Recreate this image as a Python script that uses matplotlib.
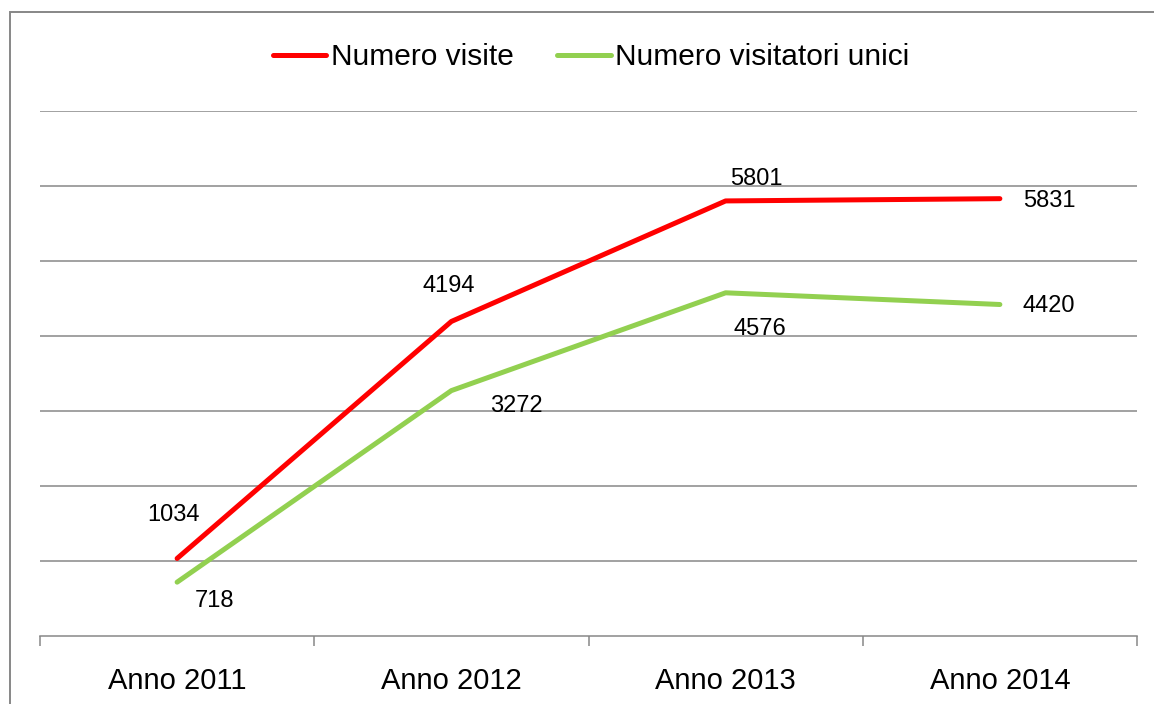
import matplotlib.pyplot as plt
from matplotlib.patches import Rectangle

plt.rcParams['font.family'] = ['Liberation Sans', 'DejaVu Sans']

# data
anni = ['Anno 2011', 'Anno 2012', 'Anno 2013', 'Anno 2014']
visite = [1034, 4194, 5801, 5831]
visitatori_unici = [718, 3272, 4576, 4420]

# label offsets (pixels) relative to each point
off_visite = [(-4, 43), (-3, 35), (31, 22), (49, -2)]
off_unici = [(37, -19), (65, -15), (34, -36), (49, -1)]

grigio = '#878787'
rosso = '#FF0000'
verde = '#92D050'

fig = plt.figure(figsize=(11.54, 7.04), dpi=100)
ax = fig.add_axes([40/1154, 1-636/704, (1137-40)/1154, (636-111)/704])

x = list(range(len(anni)))
ax.plot(x, visite, color=rosso, lw=3.6, solid_capstyle='round', label='Numero visite', zorder=3)
ax.plot(x, visitatori_unici, color=verde, lw=3.6, solid_capstyle='round',
        label='Numero visitatori unici', zorder=3)

for xi, v, o in zip(x, visite, off_visite):
    ax.annotate(str(v), (xi, v), xytext=o, textcoords='offset pixels',
                ha='center', va='center', fontsize=17)
for xi, v, o in zip(x, visitatori_unici, off_unici):
    ax.annotate(str(v), (xi, v), xytext=o, textcoords='offset pixels',
                ha='center', va='center', fontsize=17)

ax.set_xlim(-0.5, 3.5)
ax.set_ylim(0, 7000)
ax.set_yticks(range(1000, 8000, 1000))
ax.yaxis.grid(True, color=grigio, lw=1.1)
ax.tick_params(axis='y', left=False, labelleft=False)

ax.set_xticks([-0.5, 0.5, 1.5, 2.5, 3.5])
ax.set_xticklabels([])
ax.set_xticks(x, minor=True)
ax.set_xticklabels(anni, minor=True, fontsize=21)
ax.tick_params(axis='x', which='major', length=7, width=1.1, color=grigio, direction='out')
ax.tick_params(axis='x', which='minor', length=0, pad=22)

for s in ['top', 'right', 'left']:
    ax.spines[s].set_visible(False)
ax.spines['bottom'].set_color(grigio)
ax.spines['bottom'].set_linewidth(1.1)
ax.set_axisbelow(True)

fig.legend(loc='center', bbox_to_anchor=(591/1154, 1-57/704), ncol=2, frameon=False,
           fontsize=21.5, handlelength=1.8, handletextpad=0.15, columnspacing=1.45)

# chart border (only left and top edges fall inside the picture)
fig.patches.append(Rectangle((10/1154, -0.1), 1.2, 1.1-12/704, transform=fig.transFigure,
                             fill=False, edgecolor=grigio, lw=1.4))

fig.savefig('out.png', dpi=100)
